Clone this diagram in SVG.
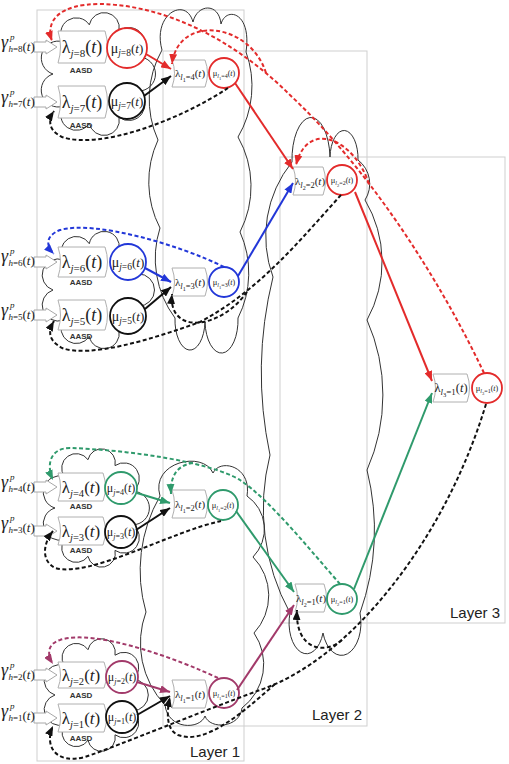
<svg xmlns="http://www.w3.org/2000/svg" width="509" height="764" viewBox="0 0 509 764">
<style>
.lay{fill:none;stroke:#cfcfcf;stroke-width:1}
.cl{fill:none;stroke:#333;stroke-width:1}
.box{fill:#fff;stroke:#b0b0b0;stroke-width:1}
.inarr{fill:#fff;stroke:#a8a8a8;stroke-width:1}
.ring{fill:#fff;stroke-width:1.8}
.m{font-family:"Liberation Serif","DejaVu Serif",serif;fill:#222}
.i{font-style:italic}
.aasd{font-family:"Liberation Sans",Arial,sans-serif;font-weight:bold;font-size:8px;fill:#333;text-anchor:middle}
.lbl{font-family:"Liberation Sans",Arial,sans-serif;font-size:15px;fill:#222}
.s{fill:none;stroke-width:2}
.d{fill:none;stroke-width:2;stroke-dasharray:4 2.5}
.R{stroke:#e32b2b}.B{stroke:#2237d8}.G{stroke:#2f9a6c}.P{stroke:#a23a6a}.K{stroke:#111}
</style>
<defs>
<marker id="aR" viewBox="0 0 10 8" markerWidth="10" markerHeight="8" refX="10" refY="4" orient="auto" markerUnits="userSpaceOnUse"><path d="M0,0L10,4L0,8z" fill="#e32b2b"/></marker>
<marker id="aB" viewBox="0 0 10 8" markerWidth="10" markerHeight="8" refX="10" refY="4" orient="auto" markerUnits="userSpaceOnUse"><path d="M0,0L10,4L0,8z" fill="#2237d8"/></marker>
<marker id="aG" viewBox="0 0 10 8" markerWidth="10" markerHeight="8" refX="10" refY="4" orient="auto" markerUnits="userSpaceOnUse"><path d="M0,0L10,4L0,8z" fill="#2f9a6c"/></marker>
<marker id="aP" viewBox="0 0 10 8" markerWidth="10" markerHeight="8" refX="10" refY="4" orient="auto" markerUnits="userSpaceOnUse"><path d="M0,0L10,4L0,8z" fill="#a23a6a"/></marker>
<marker id="aK" viewBox="0 0 10 8" markerWidth="10" markerHeight="8" refX="10" refY="4" orient="auto" markerUnits="userSpaceOnUse"><path d="M0,0L10,4L0,8z" fill="#111"/></marker>
</defs>
<rect width="509" height="764" fill="#fff"/>

<g id="layers">
<rect class="lay" x="37" y="10" width="207" height="751"/>
<rect class="lay" x="163" y="51" width="204" height="675"/>
<rect class="lay" x="280" y="157" width="225" height="466"/>
<text class="lbl" x="190" y="757">Layer 1</text>
<text class="lbl" x="312" y="720">Layer 2</text>
<text class="lbl" x="450" y="618">Layer 3</text>
</g>

<g id="clouds">
<path id="cloud-a" class="cl" d="M138.4,91.1A1 1 0 0 1 119,117.3A1 1 0 0 1 89.3,123.3A1 1 0 0 1 63.3,106.2A1 1 0 0 1 53,74A1 1 0 0 1 63.3,41.9A1 1 0 0 1 89.3,24.8A1 1 0 0 1 119,30.7A1 1 0 0 1 138.4,56.9A1 1 0 0 1 138.4,91.1Z"/>
<path id="cloud-b" class="cl" d="M138.4,306.1A1 1 0 0 1 119,330.7A1 1 0 0 1 89.3,336.3A1 1 0 0 1 63.3,320.2A1 1 0 0 1 53,290A1 1 0 0 1 63.3,259.8A1 1 0 0 1 89.3,243.7A1 1 0 0 1 119,249.3A1 1 0 0 1 138.4,273.9A1 1 0 0 1 138.4,306.1Z"/>
<path id="cloud-c" class="cl" d="M132.6,524.8A1 1 0 0 1 115,550.4A1 1 0 0 1 88,556.3A1 1 0 0 1 64.4,539.5A1 1 0 0 1 55,508A1 1 0 0 1 64.4,476.5A1 1 0 0 1 88,459.7A1 1 0 0 1 115,465.6A1 1 0 0 1 132.6,491.2A1 1 0 0 1 132.6,524.8Z"/>
<path id="cloud-d" class="cl" d="M132.6,710.7A1 1 0 0 1 115,734.8A1 1 0 0 1 88,740.3A1 1 0 0 1 64.4,724.6A1 1 0 0 1 55,695A1 1 0 0 1 64.4,665.4A1 1 0 0 1 88,649.7A1 1 0 0 1 115,655.2A1 1 0 0 1 132.6,679.3A1 1 0 0 1 132.6,710.7Z"/>
<path id="cloud-e" class="cl" d="M162,50C152,14 186,-4 193,22C197,4 219,2 221,24C226,6 252,12 246,52A100 100 0 0 1 238,137A100 100 0 0 1 240,232A100 100 0 0 1 238,318A16 32 0 0 1 205,322A15 30 0 0 1 175,318A100 100 0 0 1 160,228A100 100 0 0 1 158,140A100 100 0 0 1 162,50Z"/>
<path id="cloud-f" class="cl" d="M160,496C150,462 203,450 213,473C220,458 252,466 247,496A40 40 0 0 1 253,557A55 55 0 0 1 254,633A55 55 0 0 1 242,708C240,728 210,730 205,716C200,730 168,730 165,705A90 90 0 0 1 146,612A150 150 0 0 1 160,496Z"/>
<path id="cloud-g" class="cl" d="M292,162A19 42 0 0 1 330,157A14 28 0 0 1 358,160A30 30 0 0 1 365,200A120 120 0 0 1 367,320A185 185 0 0 1 367,470A250 250 0 0 1 360,613A18 30 0 0 1 323,633A17 30 0 0 1 290,613A218 218 0 0 1 270,455A400 400 0 0 1 273,277A118 118 0 0 1 292,162Z"/>
</g>

<g id="inputs">
<g id="in-h8"><path class="inarr" d="M34,42H46V40L57,47L46,54V52H34Z"/><text class="m i" x="1" y="48" font-size="18">γ</text><text class="m i" x="10" y="40" font-size="9">p</text><text class="m" x="8.5" y="52" font-size="9"><tspan class="i">h</tspan>=8</text><text class="m" x="22.5" y="51" font-size="13">(<tspan class="i">t</tspan>)</text></g>
<g id="in-h7"><path class="inarr" d="M34,97H46V95L57,102L46,109V107H34Z"/><text class="m i" x="1" y="103" font-size="18">γ</text><text class="m i" x="10" y="95" font-size="9">p</text><text class="m" x="8.5" y="107" font-size="9"><tspan class="i">h</tspan>=7</text><text class="m" x="22.5" y="106" font-size="13">(<tspan class="i">t</tspan>)</text></g>
<g id="in-h6"><path class="inarr" d="M34,257H46V255L57,262L46,269V267H34Z"/><text class="m i" x="1" y="262" font-size="18">γ</text><text class="m i" x="10" y="254" font-size="9">p</text><text class="m" x="8.5" y="266" font-size="9"><tspan class="i">h</tspan>=6</text><text class="m" x="22.5" y="265" font-size="13">(<tspan class="i">t</tspan>)</text></g>
<g id="in-h5"><path class="inarr" d="M34,310H46V308L57,315L46,322V320H34Z"/><text class="m i" x="1" y="316" font-size="18">γ</text><text class="m i" x="10" y="308" font-size="9">p</text><text class="m" x="8.5" y="320" font-size="9"><tspan class="i">h</tspan>=5</text><text class="m" x="22.5" y="319" font-size="13">(<tspan class="i">t</tspan>)</text></g>
<g id="in-h4"><path class="inarr" d="M34,482H46V480L57,487L46,494V492H34Z"/><text class="m i" x="1" y="488" font-size="18">γ</text><text class="m i" x="10" y="480" font-size="9">p</text><text class="m" x="8.5" y="492" font-size="9"><tspan class="i">h</tspan>=4</text><text class="m" x="22.5" y="491" font-size="13">(<tspan class="i">t</tspan>)</text></g>
<g id="in-h3"><path class="inarr" d="M34,526H46V524L57,531L46,538V536H34Z"/><text class="m i" x="1" y="529" font-size="18">γ</text><text class="m i" x="10" y="521" font-size="9">p</text><text class="m" x="8.5" y="533" font-size="9"><tspan class="i">h</tspan>=3</text><text class="m" x="22.5" y="532" font-size="13">(<tspan class="i">t</tspan>)</text></g>
<g id="in-h2"><path class="inarr" d="M34,670H46V668L57,675L46,682V680H34Z"/><text class="m i" x="1" y="676" font-size="18">γ</text><text class="m i" x="10" y="668" font-size="9">p</text><text class="m" x="8.5" y="680" font-size="9"><tspan class="i">h</tspan>=2</text><text class="m" x="22.5" y="679" font-size="13">(<tspan class="i">t</tspan>)</text></g>
<g id="in-h1"><path class="inarr" d="M34,713H46V711L57,718L46,725V723H34Z"/><text class="m i" x="1" y="717" font-size="18">γ</text><text class="m i" x="10" y="709" font-size="9">p</text><text class="m" x="8.5" y="721" font-size="9"><tspan class="i">h</tspan>=1</text><text class="m" x="22.5" y="720" font-size="13">(<tspan class="i">t</tspan>)</text></g>
</g>

<g id="aasd-nodes">
<g id="aasd-j8"><path class="box" d="M58,31H105Q110,47 105,63H58Q63,47 58,31Z"/><text class="m" x="82" y="53" text-anchor="middle" font-size="18">λ<tspan dy="4" font-size="11"><tspan class="i">j</tspan>=8</tspan><tspan dy="-4">(<tspan class="i">t</tspan>)</tspan></text><circle class="ring R" cx="127" cy="48" r="20"/><text class="m" x="127" y="53" text-anchor="middle" font-size="14">μ<tspan dy="3" font-size="9.5"><tspan class="i">j</tspan>=8</tspan><tspan dy="-3" font-size="13">(<tspan class="i">t</tspan>)</tspan></text><text class="aasd" x="81" y="73">AASD</text></g>
<g id="aasd-j7"><path class="box" d="M58,86H105Q110,102 105,118H58Q63,102 58,86Z"/><text class="m" x="82" y="108" text-anchor="middle" font-size="18">λ<tspan dy="4" font-size="11"><tspan class="i">j</tspan>=7</tspan><tspan dy="-4">(<tspan class="i">t</tspan>)</tspan></text><circle class="ring K" cx="127" cy="101" r="18"/><text class="m" x="127" y="106" text-anchor="middle" font-size="14">μ<tspan dy="3" font-size="9.5"><tspan class="i">j</tspan>=7</tspan><tspan dy="-3" font-size="13">(<tspan class="i">t</tspan>)</tspan></text><text class="aasd" x="81" y="128">AASD</text></g>
<g id="aasd-j6"><path class="box" d="M58,247H105Q110,262 105,277H58Q63,262 58,247Z"/><text class="m" x="82" y="268" text-anchor="middle" font-size="18">λ<tspan dy="4" font-size="11"><tspan class="i">j</tspan>=6</tspan><tspan dy="-4">(<tspan class="i">t</tspan>)</tspan></text><circle class="ring B" cx="128" cy="262" r="18"/><text class="m" x="128" y="267" text-anchor="middle" font-size="14">μ<tspan dy="3" font-size="9.5"><tspan class="i">j</tspan>=6</tspan><tspan dy="-3" font-size="13">(<tspan class="i">t</tspan>)</tspan></text><text class="aasd" x="81" y="285">AASD</text></g>
<g id="aasd-j5"><path class="box" d="M58,300H105Q110,315 105,330H58Q63,315 58,300Z"/><text class="m" x="82" y="321" text-anchor="middle" font-size="18">λ<tspan dy="4" font-size="11"><tspan class="i">j</tspan>=5</tspan><tspan dy="-4">(<tspan class="i">t</tspan>)</tspan></text><circle class="ring K" cx="128" cy="316" r="18"/><text class="m" x="128" y="321" text-anchor="middle" font-size="14">μ<tspan dy="3" font-size="9.5"><tspan class="i">j</tspan>=5</tspan><tspan dy="-3" font-size="13">(<tspan class="i">t</tspan>)</tspan></text><text class="aasd" x="81" y="339">AASD</text></g>
<g id="aasd-j4"><path class="box" d="M58,473H103Q108,487 103,501H58Q63,487 58,473Z"/><text class="m" x="81" y="493" text-anchor="middle" font-size="17">λ<tspan dy="4" font-size="10.5"><tspan class="i">j</tspan>=4</tspan><tspan dy="-4">(<tspan class="i">t</tspan>)</tspan></text><circle class="ring G" cx="121" cy="488" r="16"/><text class="m" x="121" y="492" text-anchor="middle" font-size="12">μ<tspan dy="2.5" font-size="8"><tspan class="i">j</tspan>=4</tspan><tspan dy="-2.5">(<tspan class="i">t</tspan>)</tspan></text><text class="aasd" x="81" y="509">AASD</text></g>
<g id="aasd-j3"><path class="box" d="M58,517H103Q108,531 103,545H58Q63,531 58,517Z"/><text class="m" x="81" y="537" text-anchor="middle" font-size="17">λ<tspan dy="4" font-size="10.5"><tspan class="i">j</tspan>=3</tspan><tspan dy="-4">(<tspan class="i">t</tspan>)</tspan></text><circle class="ring K" cx="121" cy="532" r="16"/><text class="m" x="121" y="536" text-anchor="middle" font-size="12">μ<tspan dy="2.5" font-size="8"><tspan class="i">j</tspan>=3</tspan><tspan dy="-2.5">(<tspan class="i">t</tspan>)</tspan></text><text class="aasd" x="81" y="553">AASD</text></g>
<g id="aasd-j2"><path class="box" d="M58,662H104Q109,675 104,688H58Q63,675 58,662Z"/><text class="m" x="81" y="681" text-anchor="middle" font-size="17">λ<tspan dy="4" font-size="10.5"><tspan class="i">j</tspan>=2</tspan><tspan dy="-4">(<tspan class="i">t</tspan>)</tspan></text><circle class="ring P" cx="122" cy="677" r="16"/><text class="m" x="122" y="681" text-anchor="middle" font-size="12">μ<tspan dy="2.5" font-size="8"><tspan class="i">j</tspan>=2</tspan><tspan dy="-2.5">(<tspan class="i">t</tspan>)</tspan></text><text class="aasd" x="81" y="698">AASD</text></g>
<g id="aasd-j1"><path class="box" d="M58,704H104Q109,718 104,732H58Q63,718 58,704Z"/><text class="m" x="81" y="724" text-anchor="middle" font-size="17">λ<tspan dy="4" font-size="10.5"><tspan class="i">j</tspan>=1</tspan><tspan dy="-4">(<tspan class="i">t</tspan>)</tspan></text><circle class="ring K" cx="122" cy="717" r="16"/><text class="m" x="122" y="721" text-anchor="middle" font-size="12">μ<tspan dy="2.5" font-size="8"><tspan class="i">j</tspan>=1</tspan><tspan dy="-2.5">(<tspan class="i">t</tspan>)</tspan></text><text class="aasd" x="81" y="741">AASD</text></g>
</g>

<g id="layer2-nodes">
<g id="l1-4"><path class="box" d="M172,60H205Q210,73 205,87H172Q177,73 172,60Z"/><text class="m" x="190" y="77" text-anchor="middle" font-size="11">λ<tspan dy="3" font-size="8.5" class="i">l</tspan><tspan dy="2" font-size="6">1</tspan><tspan dy="-2" font-size="8.5">=4</tspan><tspan dy="-3">(<tspan class="i">t</tspan>)</tspan></text><circle class="ring R" cx="224" cy="73" r="15"/><text class="m" x="224" y="76" text-anchor="middle" font-size="8.5">μ<tspan dy="2" font-size="6" class="i">l</tspan><tspan dy="1.5" font-size="4.5">1</tspan><tspan dy="-1.5" font-size="6">=4</tspan><tspan dy="-2" font-size="8">(<tspan class="i">t</tspan>)</tspan></text></g>
<g id="l1-3"><path class="box" d="M172,268H205Q210,282 205,296H172Q177,282 172,268Z"/><text class="m" x="190" y="286" text-anchor="middle" font-size="11">λ<tspan dy="3" font-size="8.5" class="i">l</tspan><tspan dy="2" font-size="6">1</tspan><tspan dy="-2" font-size="8.5">=3</tspan><tspan dy="-3">(<tspan class="i">t</tspan>)</tspan></text><circle class="ring B" cx="224" cy="282" r="15"/><text class="m" x="224" y="285" text-anchor="middle" font-size="8.5">μ<tspan dy="2" font-size="6" class="i">l</tspan><tspan dy="1.5" font-size="4.5">1</tspan><tspan dy="-1.5" font-size="6">=3</tspan><tspan dy="-2" font-size="8">(<tspan class="i">t</tspan>)</tspan></text></g>
<g id="l1-2"><path class="box" d="M172,490H205Q210,504 205,518H172Q177,504 172,490Z"/><text class="m" x="190" y="508" text-anchor="middle" font-size="11">λ<tspan dy="3" font-size="8.5" class="i">l</tspan><tspan dy="2" font-size="6">1</tspan><tspan dy="-2" font-size="8.5">=2</tspan><tspan dy="-3">(<tspan class="i">t</tspan>)</tspan></text><circle class="ring G" cx="223" cy="505" r="15"/><text class="m" x="223" y="508" text-anchor="middle" font-size="8.5">μ<tspan dy="2" font-size="6" class="i">l</tspan><tspan dy="1.5" font-size="4.5">1</tspan><tspan dy="-1.5" font-size="6">=2</tspan><tspan dy="-2" font-size="8">(<tspan class="i">t</tspan>)</tspan></text></g>
<g id="l1-1"><path class="box" d="M172,680H205Q210,694 205,708H172Q177,694 172,680Z"/><text class="m" x="190" y="698" text-anchor="middle" font-size="11">λ<tspan dy="3" font-size="8.5" class="i">l</tspan><tspan dy="2" font-size="6">1</tspan><tspan dy="-2" font-size="8.5">=1</tspan><tspan dy="-3">(<tspan class="i">t</tspan>)</tspan></text><circle class="ring P" cx="224" cy="693" r="15"/><text class="m" x="224" y="696" text-anchor="middle" font-size="8.5">μ<tspan dy="2" font-size="6" class="i">l</tspan><tspan dy="1.5" font-size="4.5">1</tspan><tspan dy="-1.5" font-size="6">=1</tspan><tspan dy="-2" font-size="8">(<tspan class="i">t</tspan>)</tspan></text></g>
</g>

<g id="layer3-nodes">
<g id="l2-2"><path class="box" d="M293,167H323Q328,181 323,195H293Q298,181 293,167Z"/><text class="m" x="310" y="185" text-anchor="middle" font-size="11">λ<tspan dy="3" font-size="8.5" class="i">l</tspan><tspan dy="2" font-size="6">2</tspan><tspan dy="-2" font-size="8.5">=2</tspan><tspan dy="-3">(<tspan class="i">t</tspan>)</tspan></text><circle class="ring R" cx="342" cy="180" r="15"/><text class="m" x="342" y="183" text-anchor="middle" font-size="8.5">μ<tspan dy="2" font-size="6" class="i">l</tspan><tspan dy="1.5" font-size="4.5">2</tspan><tspan dy="-1.5" font-size="6">=2</tspan><tspan dy="-2" font-size="8">(<tspan class="i">t</tspan>)</tspan></text></g>
<g id="l2-1"><path class="box" d="M295,584H324Q329,598 324,612H295Q300,598 295,584Z"/><text class="m" x="311" y="602" text-anchor="middle" font-size="11">λ<tspan dy="3" font-size="8.5" class="i">l</tspan><tspan dy="2" font-size="6">2</tspan><tspan dy="-2" font-size="8.5">=1</tspan><tspan dy="-3">(<tspan class="i">t</tspan>)</tspan></text><circle class="ring G" cx="342" cy="599" r="15"/><text class="m" x="342" y="602" text-anchor="middle" font-size="8.5">μ<tspan dy="2" font-size="6" class="i">l</tspan><tspan dy="1.5" font-size="4.5">2</tspan><tspan dy="-1.5" font-size="6">=1</tspan><tspan dy="-2" font-size="8">(<tspan class="i">t</tspan>)</tspan></text></g>
</g>

<g id="layer4-nodes">
<g id="l3-1"><path class="box" d="M433,374H467Q472,388 467,402H433Q438,388 433,374Z"/><text class="m" x="451" y="392" text-anchor="middle" font-size="12.5">λ<tspan dy="3" font-size="9" class="i">l</tspan><tspan dy="2" font-size="6.5">3</tspan><tspan dy="-2" font-size="9">=1</tspan><tspan dy="-3">(<tspan class="i">t</tspan>)</tspan></text><circle class="ring R" cx="487" cy="388" r="15"/><text class="m" x="487" y="391" text-anchor="middle" font-size="8.5">μ<tspan dy="2" font-size="6" class="i">l</tspan><tspan dy="1.5" font-size="4.5">3</tspan><tspan dy="-1.5" font-size="6">=1</tspan><tspan dy="-2" font-size="8">(<tspan class="i">t</tspan>)</tspan></text></g>
</g>

<g id="connectors">
<path class="s R" d="M146,54L171,69" marker-end="url(#aR)"/>
<path class="s K" d="M144,96L171,76" marker-end="url(#aK)"/>
<path class="s B" d="M145,268L171,282" marker-end="url(#aB)"/>
<path class="s K" d="M145,309L171,287" marker-end="url(#aK)"/>
<path class="s G" d="M137,493L170,503" marker-end="url(#aG)"/>
<path class="s K" d="M136,530L170,508" marker-end="url(#aK)"/>
<path class="s P" d="M137,682L170,692" marker-end="url(#aP)"/>
<path class="s K" d="M137,715L170,696" marker-end="url(#aK)"/>
<path class="s R" d="M235,83L293,169" marker-end="url(#aR)"/>
<path class="s B" d="M238,276L293,183" marker-end="url(#aB)"/>
<path class="s R" d="M355,192L432,381" marker-end="url(#aR)"/>
<path class="s G" d="M236,511L294,592" marker-end="url(#aG)"/>
<path class="s P" d="M237,690L294,605" marker-end="url(#aP)"/>
<path class="s G" d="M354,589L432,393" marker-end="url(#aG)"/>
<path class="d R" d="M484,373C440,280 370,170 290,95C240,45 170,5 100,4C60,4 45,20 52,41" marker-end="url(#aR)"/>
<path class="d R" d="M369,184C355,140 308,118 296,165" marker-end="url(#aR)"/>
<path class="d R" d="M266,73C250,22 178,14 172,64" marker-end="url(#aR)"/>
<path class="d B" d="M224,267C180,245 95,220 60,230C45,236 46,246 54,254" marker-end="url(#aB)"/>
<path class="d K" d="M228,88C180,120 100,150 62,137C48,130 48,120 54,111" marker-end="url(#aK)"/>
<path class="d K" d="M341,195C300,240 260,290 200,322C150,340 90,358 62,348C48,340 48,332 54,321" marker-end="url(#aK)"/>
<path class="d K" d="M247,292C220,330 168,335 172,294" marker-end="url(#aK)"/>
<path class="d G" d="M340,584C310,550 270,500 240,480C210,462 130,450 70,448C50,448 46,465 53,480" marker-end="url(#aG)"/>
<path class="d G" d="M193,463C178,465 170,475 171,494" marker-end="url(#aG)"/>
<path class="d K" d="M221,521C170,532 90,578 55,568C40,560 44,542 53,531" marker-end="url(#aK)"/>
<path class="d P" d="M218,678C180,660 95,628 60,640C47,644 47,655 53,664" marker-end="url(#aP)"/>
<path class="d K" d="M486,404C445,540 350,660 260,690C200,712 120,745 85,757C55,765 44,745 53,726" marker-end="url(#aK)"/>
<path class="d K" d="M275,684C240,715 205,745 178,735C167,730 166,715 170,697" marker-end="url(#aK)"/>
<path class="d K" d="M342,640C325,655 295,650 297,610" marker-end="url(#aK)"/>
</g>
</svg>
